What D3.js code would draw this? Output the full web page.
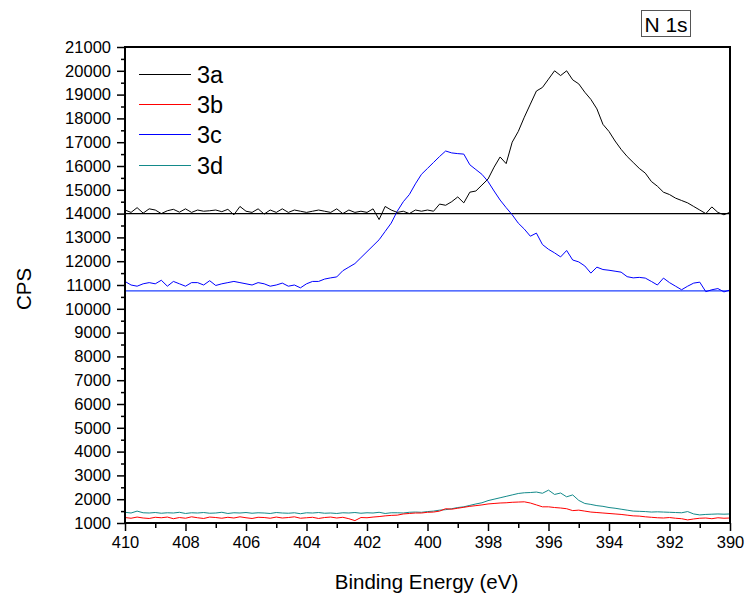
<!DOCTYPE html>
<html>
<head>
<meta charset="utf-8">
<script src="https://cdn.jsdelivr.net/npm/d3@7"></script>
<style>
  html, body { margin: 0; padding: 0; background: #fff; }
  svg { display: block; font-family: "Liberation Sans", Arial, sans-serif; }
</style>
</head>
<body>
<svg id="chart" width="748" height="597"></svg>
<script>
// ---- data ----
const energyStart = 410, energyEnd = 390, energyStep = 0.2;
const energies = d3.range(0, 101).map(i => +(energyStart - i * energyStep).toFixed(1));

const series3a = [
  14150,14050,14250,14020,14200,14150,14000,14120,14180,14060,
  14200,14050,14150,14100,14120,14150,14080,14180,13950,14300,
  14100,14050,14200,13980,14150,14050,14200,14050,14150,14100,
  14050,14100,14150,14100,14050,14200,14000,14150,14050,14100,
  14050,14200,13750,14300,14150,14050,14100,14000,14150,14100,
  14150,14100,14400,14350,14500,14700,14450,14900,14950,15200,
  15450,15950,16380,16100,17000,17450,18050,18600,19150,19300,
  19650,20000,19800,20000,19620,19450,19100,18800,18400,17750,
  17450,17050,16700,16400,16150,15900,15700,15350,15150,14900,
  14800,14650,14550,14450,14300,14150,14000,14280,14050,13950,
  14060
];
const series3b = [
  1230,1200,1250,1210,1190,1240,1220,1250,1180,1230,
  1200,1260,1220,1190,1250,1230,1200,1240,1210,1260,
  1220,1190,1240,1230,1200,1250,1210,1230,1260,1200,
  1220,1240,1190,1230,1250,1210,1240,1180,1100,1230,
  1220,1250,1270,1300,1320,1330,1380,1400,1420,1420,
  1450,1460,1500,1600,1580,1620,1660,1700,1730,1760,
  1800,1820,1840,1850,1870,1880,1890,1840,1760,1680,
  1680,1650,1630,1600,1520,1540,1500,1460,1440,1420,
  1400,1380,1360,1330,1300,1290,1260,1240,1220,1210,
  1230,1200,1180,1130,1170,1200,1210,1180,1220,1200,
  1210
];
const series3c = [
  11150,11000,10950,11050,11100,11050,11200,10950,11150,11050,
  10950,11100,11100,11000,11180,10980,11050,11100,11150,11100,
  11050,11000,11100,11050,10950,11000,11080,10950,11000,10880,
  11050,11150,11150,11250,11300,11340,11600,11750,11900,12150,
  12400,12650,12900,13250,13600,14100,14500,14800,15250,15650,
  15900,16150,16400,16630,16550,16520,16500,16050,15850,15650,
  15350,14950,14570,14250,13950,13600,13350,13050,13180,12700,
  12500,12350,12180,12450,12050,11970,11800,11500,11750,11650,
  11620,11580,11540,11350,11300,11320,11290,11150,11000,11290,
  11100,10950,10800,10950,11080,11120,10720,10800,10850,10710,
  10790
];
const series3d = [
  1450,1420,1500,1430,1420,1440,1410,1430,1420,1450,
  1400,1430,1420,1440,1410,1420,1450,1400,1430,1420,
  1440,1410,1430,1420,1400,1440,1420,1410,1430,1390,
  1430,1420,1440,1410,1420,1400,1430,1420,1440,1410,
  1430,1420,1450,1400,1430,1430,1420,1450,1460,1450,
  1480,1500,1540,1560,1600,1650,1680,1740,1800,1850,
  1940,2000,2060,2120,2180,2240,2270,2280,2300,2250,
  2380,2200,2260,2100,2180,1950,1820,1780,1730,1700,
  1650,1620,1580,1540,1500,1490,1480,1460,1470,1460,
  1450,1440,1430,1480,1380,1340,1360,1370,1380,1370,
  1380
];
// straight background lines
const baseline3a = [14000, 14000];
const baseline3c = [10750, 10750];

const seriesNames = ["3a", "3b", "3c", "3d"];
const seriesColors = ["#000000", "#ff0000", "#0000ff", "#138a8a"];
const yTicks = d3.range(1000, 21001, 1000);
const xTicks = [410, 408, 406, 404, 402, 400, 398, 396, 394, 392, 390];
const chartTitle = "N 1s";
const xTitle = "Binding Energy (eV)";
const yTitle = "CPS";

// ---- layout ----
const svg = d3.select("#chart");
const mLeft = 125, mRight = 730, mTop = 47, mBottom = 523;

const x = d3.scaleLinear().domain([410, 390]).range([mLeft, mRight]);
const y = d3.scaleLinear().domain([1000, 21000]).range([mBottom, mTop]);

const line = d3.line().x(d => x(d[0])).y(d => y(d[1]));

svg.append("clipPath").attr("id", "clip")
  .append("rect").attr("x", mLeft).attr("y", mTop).attr("width", mRight - mLeft).attr("height", mBottom - mTop);

const plot = svg.append("g").attr("clip-path", "url(#clip)");

// background lines
plot.append("path")
  .attr("d", line([[410, baseline3a[0]], [390, baseline3a[1]]]))
  .attr("fill", "none").attr("stroke", "#000").attr("stroke-width", 1.2);
plot.append("path")
  .attr("d", line([[410, baseline3c[0]], [390, baseline3c[1]]]))
  .attr("fill", "none").attr("stroke", "#2040ff").attr("stroke-width", 1.2);

const allSeries = [series3a, series3b, series3c, series3d];
// draw order: 3d, 3b, 3c, 3a
[3, 1, 2, 0].forEach(k => {
  const data = energies.map((e, i) => [e, allSeries[k][i]]);
  plot.append("path")
    .attr("d", line(data))
    .attr("fill", "none")
    .attr("stroke", seriesColors[k])
    .attr("stroke-width", 1)
    .attr("stroke-linejoin", "round");
});

// ---- axes ----
const yAxis = d3.axisLeft(y).tickValues(yTicks).tickSize(8).tickPadding(6).tickFormat(d3.format("d"));
const gy = svg.append("g").attr("transform", `translate(${mLeft},0)`).call(yAxis);
gy.select(".domain").remove();
gy.selectAll("line").attr("stroke", "#000").attr("stroke-width", 1.5);
gy.selectAll("text").attr("font-size", 16.5).attr("fill", "#000").attr("font-family", "Liberation Sans, Arial, sans-serif");

// minor y ticks
const yMinor = d3.axisLeft(y).tickValues(d3.range(1500, 21000, 1000)).tickSize(4).tickFormat("");
const gym = svg.append("g").attr("transform", `translate(${mLeft},0)`).call(yMinor);
gym.select(".domain").remove();
gym.selectAll("line").attr("stroke", "#000").attr("stroke-width", 1.5);

const xAxis = d3.axisBottom(x).tickValues(xTicks).tickSize(8).tickPadding(5).tickFormat(d3.format("d"));
const gx = svg.append("g").attr("transform", `translate(0,${mBottom})`).call(xAxis);
gx.select(".domain").remove();
gx.selectAll("line").attr("stroke", "#000").attr("stroke-width", 1.5);
gx.selectAll("text").attr("font-size", 16.5).attr("fill", "#000").attr("font-family", "Liberation Sans, Arial, sans-serif");

const xMinor = d3.axisBottom(x).tickValues(d3.range(409, 390, -2)).tickSize(5).tickFormat("");
const gxm = svg.append("g").attr("transform", `translate(0,${mBottom})`).call(xMinor);
gxm.select(".domain").remove();
gxm.selectAll("line").attr("stroke", "#000").attr("stroke-width", 1.5);

// frame
svg.append("rect")
  .attr("x", mLeft).attr("y", mTop).attr("width", mRight - mLeft).attr("height", mBottom - mTop)
  .attr("fill", "none").attr("stroke", "#000").attr("stroke-width", 2);

// titles
svg.append("text").attr("x", (mLeft + mRight) / 2 - 1).attr("y", 589)
  .attr("text-anchor", "middle").attr("font-size", 20.5).text(xTitle);
svg.append("text").attr("transform", "translate(31,289) rotate(-90)")
  .attr("text-anchor", "middle").attr("font-size", 20.5).text(yTitle);

// N 1s box
svg.append("rect").attr("x", 641.5).attr("y", 10.5).attr("width", 49).attr("height", 26)
  .attr("fill", "none").attr("stroke", "#555").attr("stroke-width", 1);
svg.append("text").attr("x", 666).attr("y", 32).attr("text-anchor", "middle")
  .attr("font-size", 21).text(chartTitle);

// legend
const legendY = [74.5, 104.5, 134.5, 165.5];
seriesNames.forEach((name, k) => {
  svg.append("line").attr("x1", 139).attr("x2", 191)
    .attr("y1", legendY[k]).attr("y2", legendY[k])
    .attr("stroke", seriesColors[k]).attr("stroke-width", 1);
  svg.append("text").attr("x", 197).attr("y", legendY[k] + 8.5)
    .attr("font-size", 23.5).text(name);
});
</script>
</body>
</html>
